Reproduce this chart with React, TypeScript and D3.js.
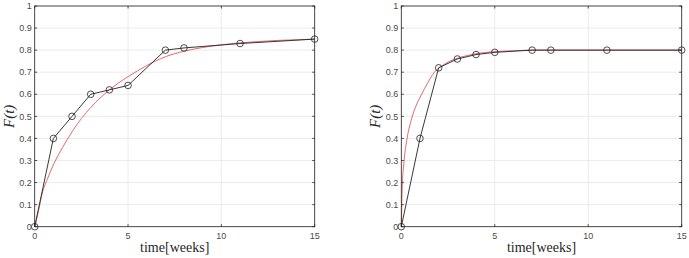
import * as d3 from "d3";

// observed data (time in weeks, F(t))
const weeks = [0, 1, 2, 3, 4, 5, 7, 8, 11, 15];
const leftObserved = [0, 0.4, 0.5, 0.6, 0.62, 0.64, 0.8, 0.81, 0.83, 0.85];
const rightObserved = [0, 0.4, 0.72, 0.76, 0.78, 0.79, 0.8, 0.8, 0.8, 0.8];

// fitted curves
const leftFitT = [0, 0.2, 0.4, 0.7, 1, 1.5, 2, 2.5, 3, 4, 5, 6, 7, 8, 9, 10, 11, 12, 13, 14, 15];
const leftFitF = [0, 0.07, 0.15, 0.22, 0.28, 0.36, 0.43, 0.49, 0.54, 0.62, 0.68, 0.73, 0.77, 0.795, 0.812, 0.824, 0.833, 0.839, 0.844, 0.847, 0.85];
const rightFitT = [0, 0.05, 0.14, 0.29, 0.52, 0.8, 1.09, 1.4, 1.77, 2.2, 2.6, 3, 3.5, 4, 5, 6, 7, 8, 11, 15];
const rightFitF = [0, 0.18, 0.29, 0.39, 0.48, 0.55, 0.6, 0.65, 0.7, 0.73, 0.75, 0.763, 0.775, 0.784, 0.793, 0.797, 0.8, 0.8, 0.8, 0.8];

const xTicks = [0, 5, 10, 15];
const yTicks = [0, 0.1, 0.2, 0.3, 0.4, 0.5, 0.6, 0.7, 0.8, 0.9, 1];

const W = 689;
const H = 258;
const top = 6;
const bottom = 226.7;

type PanelProps = {
  x0: number;
  x1: number;
  observed: number[];
  fitT: number[];
  fitF: number[];
};

function Panel({ x0, x1, observed, fitT, fitF }: PanelProps) {
  const xScale = d3.scaleLinear().domain([0, 15]).range([x0, x1]);
  const yScale = d3.scaleLinear().domain([0, 1]).range([bottom, top]);

  const fitLine = d3
    .line<number>()
    .x((_, i) => xScale(fitT[i]))
    .y((d) => yScale(d))
    .curve(d3.curveMonotoneX);
  const obsLine = d3
    .line<number>()
    .x((_, i) => xScale(weeks[i]))
    .y((d) => yScale(d));

  const axisColor = "#262626";
  const tickFont = "'Liberation Sans', Arial, sans-serif";
  const serif = "'Liberation Serif', 'Times New Roman', serif";
  const tl = 2.5;

  return (
    <g>
      {/* grid */}
      {xTicks.map((t) => (
        <line key={"gx" + t} x1={xScale(t)} x2={xScale(t)} y1={top} y2={bottom} stroke="#e3e3e3" strokeWidth={0.7} />
      ))}
      {yTicks.map((t) => (
        <line key={"gy" + t} x1={x0} x2={x1} y1={yScale(t)} y2={yScale(t)} stroke="#e3e3e3" strokeWidth={0.7} />
      ))}

      {/* fitted curve */}
      <path d={fitLine(fitF) ?? ""} fill="none" stroke="#e0575f" strokeWidth={0.9} />

      {/* observed data */}
      <path d={obsLine(observed) ?? ""} fill="none" stroke="#222" strokeWidth={0.9} />
      {observed.map((v, i) => (
        <circle key={"m" + i} cx={xScale(weeks[i])} cy={yScale(v)} r={3.3} fill="none" stroke="#222" strokeWidth={0.8} />
      ))}

      {/* box */}
      <rect x={x0} y={top} width={x1 - x0} height={bottom - top} fill="none" stroke={axisColor} strokeWidth={0.8} />
      {xTicks.map((t) => (
        <g key={"tx" + t}>
          <line x1={xScale(t)} x2={xScale(t)} y1={bottom} y2={bottom - tl} stroke={axisColor} strokeWidth={0.8} />
          <line x1={xScale(t)} x2={xScale(t)} y1={top} y2={top + tl} stroke={axisColor} strokeWidth={0.8} />
          <text x={xScale(t)} y={bottom + 12} textAnchor="middle" fontFamily={tickFont} fontSize={9} fill="#4a4a4a">
            {t}
          </text>
        </g>
      ))}
      {yTicks.map((t) => (
        <g key={"ty" + t}>
          <line x1={x0} x2={x0 + tl} y1={yScale(t)} y2={yScale(t)} stroke={axisColor} strokeWidth={0.8} />
          <line x1={x1} x2={x1 - tl} y1={yScale(t)} y2={yScale(t)} stroke={axisColor} strokeWidth={0.8} />
          <text x={x0 - 3} y={yScale(t) + 3.2} textAnchor="end" fontFamily={tickFont} fontSize={9} fill="#4a4a4a">
            {d3.format("")(t)}
          </text>
        </g>
      ))}

      {/* axis labels */}
      <text x={(x0 + x1) / 2} y={252} textAnchor="middle" fontFamily={serif} fontSize={14} fill="#262626">
        time[weeks]
      </text>
      <text
        transform={`translate(${x0 - 21}, ${(top + bottom) / 2}) rotate(-90)`}
        textAnchor="middle"
        fontFamily={serif}
        fontStyle="italic"
        fontSize={15}
        fill="#262626"
      >
        F(t)
      </text>
    </g>
  );
}

export default function App() {
  return (
    <svg width={W} height={H} style={{ position: "absolute", left: 0, top: 0, background: "#fff" }}>
      <Panel x0={34.7} x1={314.7} observed={leftObserved} fitT={leftFitT} fitF={leftFitF} />
      <Panel x0={401.3} x1={681.7} observed={rightObserved} fitT={rightFitT} fitF={rightFitF} />
    </svg>
  );
}
